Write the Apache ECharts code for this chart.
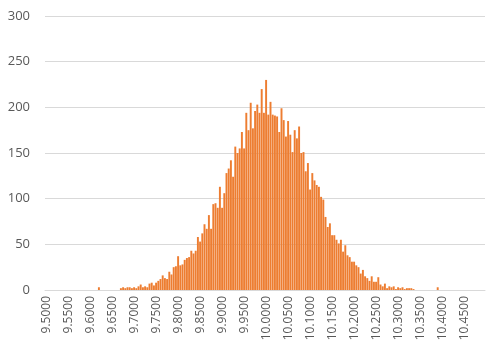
<!DOCTYPE html>
<html>
<head>
<meta charset="utf-8">
<script src="https://cdn.jsdelivr.net/npm/echarts@6/dist/echarts.min.js"></script>
<style>html,body{margin:0;padding:0;background:#fff}#c{width:500px;height:364px}</style>
</head>
<body>
<div id="c"></div>
<script>
// bin starts 9.500 .. 10.495 step 0.005 (200 bins)
const binStarts = [];
for (let i = 0; i < 200; i++) binStarts.push((9.5 + i * 0.005).toFixed(4));

const counts = [
  // 9.500 - 9.545
  0,0,0,0,0,0,0,0,0,0,
  // 9.550 - 9.595
  0,0,0,0,0,0,0,0,0,0,
  // 9.600 - 9.645
  0,0,0,0,3,0,0,0,0,0,
  // 9.650 - 9.695
  0,0,0,0,2,3,2,3,3,2,
  // 9.700 - 9.745
  3,2,4,6,3,4,3,7,8,5,
  // 9.750 - 9.795
  8,10,12,16,13,12,20,17,25,26,
  // 9.800 - 9.845
  37,27,28,33,35,36,43,40,43,58,
  // 9.850 - 9.895
  53,62,72,67,82,67,94,95,90,113,
  // 9.900 - 9.945
  90,106,128,133,142,124,157,150,155,173,
  // 9.950 - 9.995
  155,194,175,205,177,196,203,194,220,194,
  // 10.000 - 10.045
  230,192,206,192,191,190,173,199,186,168,
  // 10.050 - 10.095
  185,170,151,175,166,179,150,151,130,139,
  // 10.100 - 10.145
  110,128,120,115,113,102,99,80,69,73,
  // 10.150 - 10.195
  60,60,55,51,55,42,49,38,36,31,
  // 10.200 - 10.245
  31,27,25,18,22,15,13,10,15,9,
  // 10.250 - 10.295
  9,14,6,4,7,2,4,3,4,1,
  // 10.300 - 10.345
  3,2,3,1,2,2,2,1,0,0,
  // 10.350 - 10.395
  0,0,0,0,0,0,0,0,3,0,
  // 10.400 - 10.445
  0,0,0,0,0,0,0,0,0,0,
  // 10.450 - 10.495
  0,0,0,0,0,0,0,0,0,0
];

const yTicks = [0, 50, 100, 150, 200, 250, 300];

const chart = echarts.init(document.getElementById('c'), null, {renderer: 'canvas'});
chart.setOption({
  animation: false,
  grid: {left: 45, right: 15, top: 16, bottom: 74, containLabel: false},
  xAxis: {
    type: 'category',
    data: binStarts,
    axisLine: {show: true, lineStyle: {color: '#d9d9d9', width: 1}},
    axisTick: {show: false},
    axisLabel: {
      interval: 9,
      rotate: 90,
      color: '#595959',
      fontSize: 12,
      fontFamily: 'Open Sans',
      margin: 6
    }
  },
  yAxis: {
    type: 'value',
    min: yTicks[0],
    max: yTicks[yTicks.length - 1],
    interval: 50,
    axisLine: {show: false},
    axisTick: {show: false},
    axisLabel: {color: '#595959', fontSize: 13, fontFamily: 'Open Sans', margin: 15},
    splitLine: {lineStyle: {color: '#d9d9d9', width: 1}}
  },
  series: [{
    type: 'bar',
    data: counts,
    barCategoryGap: '12%',
    itemStyle: {color: '#ED7D31'}
  }]
});
</script>
</body>
</html>
